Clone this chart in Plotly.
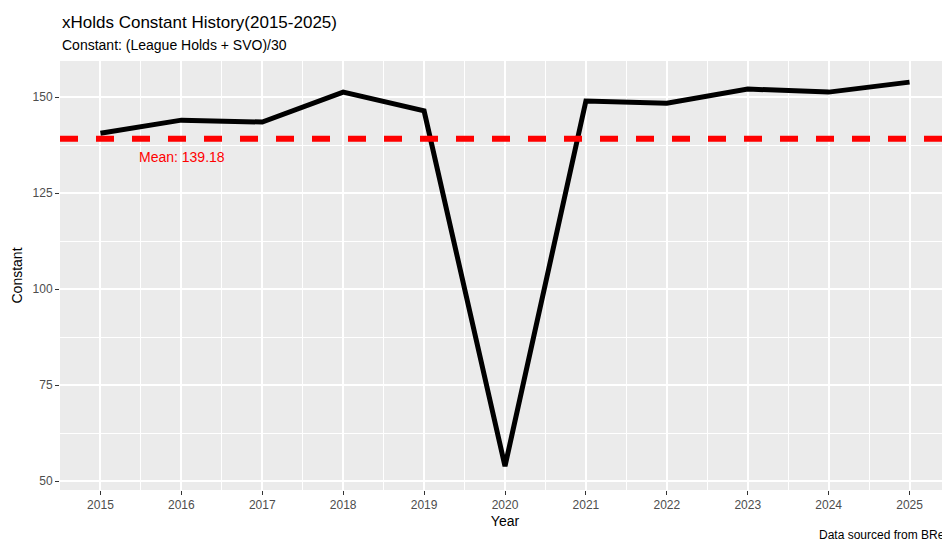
import plotly.graph_objects as go

years = [2015, 2016, 2017, 2018, 2019, 2020, 2021, 2022, 2023, 2024, 2025]
constant = [140.6, 144.0, 143.5, 151.3, 146.4, 53.9, 149.0, 148.4, 152.1, 151.3, 153.9]
mean_val = 139.18

fig = go.Figure()
fig.add_hline(y=mean_val, line=dict(color="#FF0000", width=6, dash="dash"), layer="above")
fig.add_trace(go.Scatter(x=years, y=constant, mode="lines", line=dict(color="black", width=5), showlegend=False))
fig.add_annotation(x=2015.45, y=mean_val, yshift=-18, text=f"Mean: {mean_val}", showarrow=False,
                   xanchor="left", font=dict(color="#FF0000", size=14))
fig.add_annotation(x=1, y=0, xref="paper", yref="paper", yshift=-54, xanchor="right", yanchor="bottom",
                   text="Data sourced from BRef", showarrow=False, font=dict(size=12, color="black"))
fig.add_annotation(x=0, y=1, xref="paper", yref="paper", yshift=50, xanchor="left", yanchor="top",
                   text="xHolds Constant History(2015-2025)", showarrow=False, font=dict(size=17, color="black"))
fig.add_annotation(x=0, y=1, xref="paper", yref="paper", yshift=26, xanchor="left", yanchor="top",
                   text="Constant: (League Holds + SVO)/30", showarrow=False, font=dict(size=14, color="black"))

fig.update_layout(
    width=950, height=542,
    margin=dict(l=52, r=8, t=53, b=60, autoexpand=False),
    paper_bgcolor="white", plot_bgcolor="#EBEBEB",
    font=dict(family="Liberation Sans, Arial", color="black"),
    xaxis=dict(range=[2014.5, 2025.5], dtick=1, tick0=2015, showgrid=True, gridcolor="white", gridwidth=1.5,
               minor=dict(dtick=0.5, tick0=2014.5, showgrid=True, gridcolor="white", gridwidth=0.6),
               ticks="outside", ticklen=4, tickcolor="#333", tickfont=dict(size=12, color="#4D4D4D"),
               title=dict(text="Year", font=dict(size=14), standoff=4), zeroline=False, automargin=False),
    yaxis=dict(range=[47.7, 159.4], dtick=25, tick0=50, showgrid=True, gridcolor="white", gridwidth=1.5,
               minor=dict(dtick=12.5, tick0=37.5, showgrid=True, gridcolor="white", gridwidth=0.6),
               ticks="outside", ticklen=4, tickcolor="#333", tickfont=dict(size=12, color="#4D4D4D"),
               title=dict(text="Constant", font=dict(size=14), standoff=6), zeroline=False, automargin=False),
)
fig.write_html("out.html")
